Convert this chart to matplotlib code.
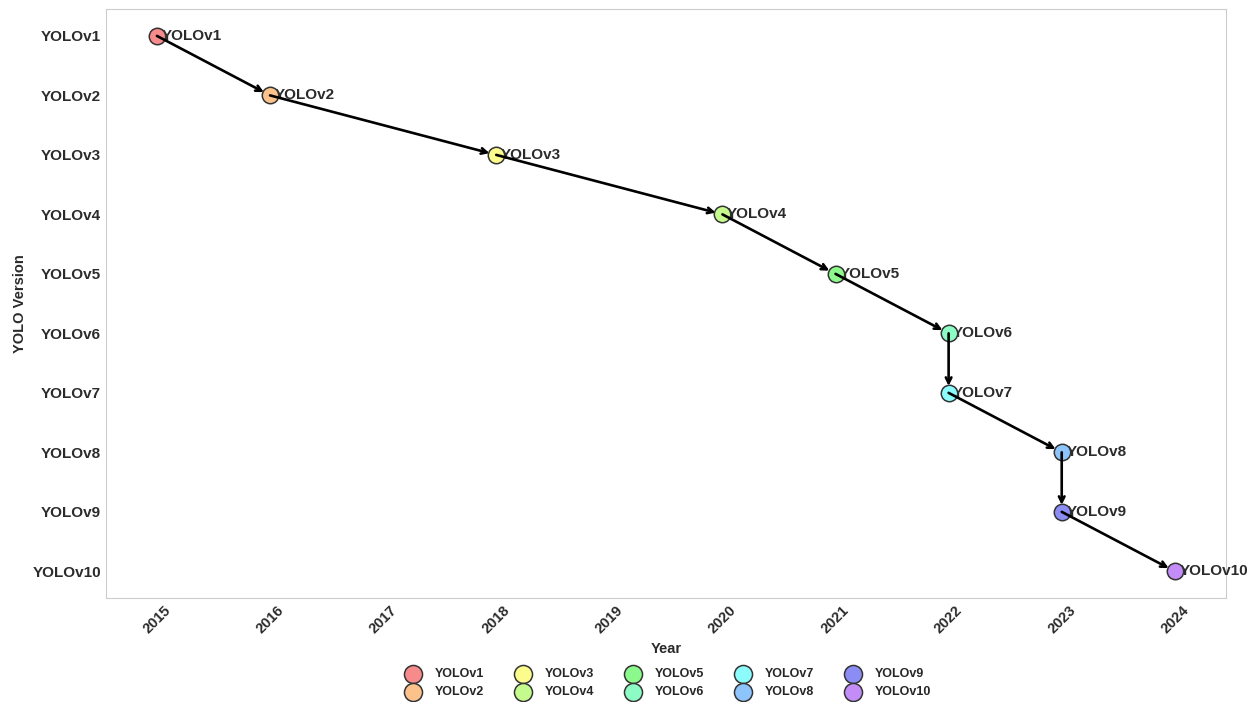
import matplotlib
matplotlib.use("Agg")
import matplotlib.pyplot as plt
import seaborn as sns

versions = ["YOLOv1", "YOLOv2", "YOLOv3", "YOLOv4", "YOLOv5",
            "YOLOv6", "YOLOv7", "YOLOv8", "YOLOv9", "YOLOv10"]
years = [2015, 2016, 2018, 2020, 2021, 2022, 2022, 2023, 2023, 2024]
colors = ["#f78a8a", "#fbc28c", "#fcfc8c", "#c4fb8c", "#8cf98c",
          "#8cfbc4", "#8cfbfb", "#8cc4fb", "#8c8cf5", "#c48cf7"]
year_ticks = list(range(2015, 2025))

sns.set_style("whitegrid")
plt.rcParams['font.family'] = ['Liberation Sans', 'DejaVu Sans']

fig = plt.figure(figsize=(12.52, 7.02), dpi=100)
ax = fig.add_axes([0.0847, 0.148, 0.8943, 0.839])

ypos = list(range(len(versions)))
for i, (v, yr, c) in enumerate(zip(versions, years, colors)):
    ax.scatter(yr, i, s=140, color=c, edgecolor="#333333", linewidth=1.1,
               label=v, zorder=4)
    ax.text(yr + 0.04, i, v, fontsize=11, fontweight="bold", color=".17",
            va="center", ha="left", zorder=3)

for i in range(len(versions) - 1):
    ax.annotate("", xy=(years[i + 1], i + 1), xytext=(years[i], i),
                arrowprops=dict(arrowstyle="->", color="black", lw=1.9,
                                shrinkA=0, shrinkB=5),
                zorder=5)

ax.set_xticks(year_ticks)
ax.set_xticklabels([str(y) for y in year_ticks], rotation=45,
                   fontweight="bold", fontsize=10.5)
ax.set_yticks(ypos)
ax.set_yticklabels(versions, fontweight="bold", fontsize=11)
ax.set_ylim(len(versions) - 1 + 0.45, -0.45)
ax.set_xlim(2014.55, 2024.45)
ax.grid(False)
for s in ax.spines.values():
    s.set_color(".8")
ax.tick_params(axis="both", colors=".17", length=0)
ax.set_xlabel("Year", fontweight="bold", fontsize=10.5, color=".17")
ax.set_ylabel("YOLO Version", fontweight="bold", fontsize=10.5, color=".17")

leg = ax.legend(loc="upper center", bbox_to_anchor=(0.5, -0.1), ncol=5,
                frameon=False, prop={"weight": "bold", "size": 9},
                markerscale=1.1, handletextpad=0.7, columnspacing=2.15,
                labelspacing=0.45)

fig.savefig("out.png", dpi=100)
